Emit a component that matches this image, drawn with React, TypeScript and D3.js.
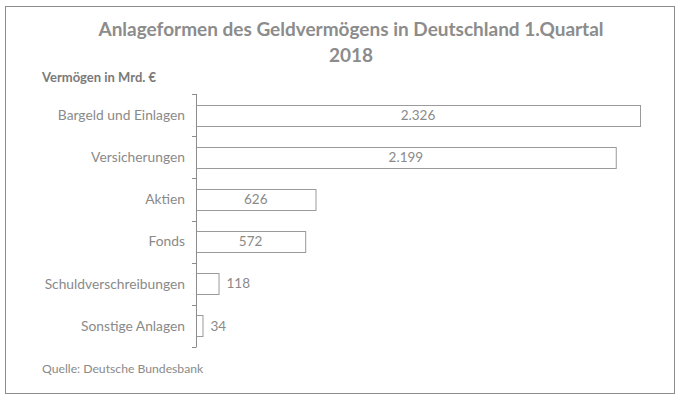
import React from 'react';
import * as d3 from 'd3';

const categories = [
  'Bargeld und Einlagen',
  'Versicherungen',
  'Aktien',
  'Fonds',
  'Schuldverschreibungen',
  'Sonstige Anlagen',
];
const values = [2326, 2199, 626, 572, 118, 34];
const titleLines = ['Anlageformen des Geldvermögens in Deutschland 1.Quartal', '2018'];
const axisTitle = 'Vermögen in Mrd. €';
const sourceNote = 'Quelle: Deutsche Bundesbank';

const width = 681,
  height = 399;
const font = 'Lato, "Open Sans", sans-serif';
const grey = '#8a8a8a';

const de = d3.formatLocale({ decimal: ',', thousands: '.', grouping: [3], currency: ['', ' €'] });
const fmt = de.format(',d');

export default function App() {
  const x = d3.scaleLinear().domain([0, 2326]).range([196, 640]);
  const y = d3
    .scaleBand<string>()
    .domain(categories)
    .range([94, 347])
    .paddingInner(0.5)
    .paddingOuter(0.25);

  const step = y.step();
  const tickYs = d3.range(categories.length + 1).map(i => 94 + i * step);

  return (
    <svg
      width={width}
      height={height}
      style={{ position: 'absolute', left: 0, top: 0, background: '#fff' }}
      fontFamily={font}
    >
      <rect x={5.5} y={6.5} width={669} height={387} fill="#fff" stroke="#8c8c8c" />

      {titleLines.map((t, i) => (
        <text
          key={i}
          x={351}
          y={36 + i * 26}
          textAnchor="middle"
          fontSize={19}
          fontWeight="bold"
          fill="#8c8c8c"
        >
          {t}
        </text>
      ))}

      <text x={42} y={82} fontSize={13} fontWeight="bold" fill="#7a7a7a">
        {axisTitle}
      </text>

      {/* bars */}
      {categories.map((c, i) => {
        const v = values[i];
        const bw = x(v) - x(0);
        const yy = y(c)!;
        const inside = bw > 60;
        return (
          <g key={c}>
            <rect
              x={x(0) + 0.5}
              y={Math.round(yy) + 0.5}
              width={bw}
              height={Math.round(y.bandwidth())}
              fill="#fff"
              stroke="#9a9a9a"
            />
            <text
              x={inside ? x(0) + bw / 2 : x(v) + 8}
              y={yy + y.bandwidth() / 2}
              dy="0.35em"
              textAnchor={inside ? 'middle' : 'start'}
              fontSize={13.5}
              fill={grey}
            >
              {fmt(v)}
            </text>
            <text
              x={185}
              y={yy + y.bandwidth() / 2}
              dy="0.35em"
              textAnchor="end"
              fontSize={13.8}
              fill={grey}
            >
              {c}
            </text>
          </g>
        );
      })}

      {/* axis */}
      <line x1={196.5} x2={196.5} y1={94} y2={347} stroke="#8c8c8c" />
      {tickYs.map((t, i) => (
        <line key={i} x1={192} x2={196.5} y1={Math.round(t) + 0.5} y2={Math.round(t) + 0.5} stroke="#8c8c8c" />
      ))}

      <text x={42} y={373} fontSize={12.2} fill={grey}>
        {sourceNote}
      </text>
    </svg>
  );
}
